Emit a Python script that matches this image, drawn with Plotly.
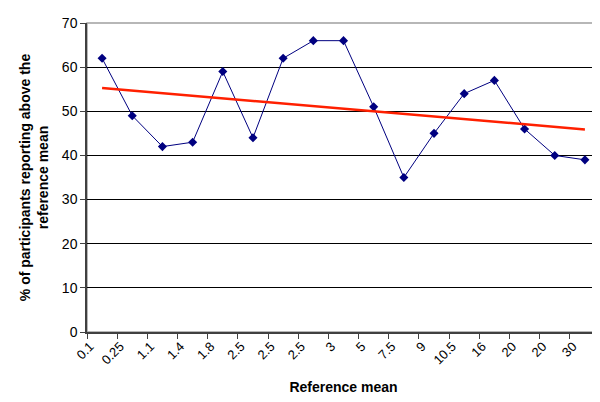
import numpy as np
import plotly.graph_objects as go

categories = ["0.1", "0.25", "1.1", "1.4", "1.8", "2.5", "2.5", "2.5", "3",
              "5", "7.5", "9", "10.5", "16", "20", "20", "30"]
percent_above = [62, 49, 42, 43, 59, 44, 62, 66, 66, 51, 35, 45, 54, 57, 46, 40, 39]

pos = np.arange(1, len(categories) + 1)
# linear trend line like the spreadsheet one
slope, icept = np.polyfit(pos, percent_above, 1)
trend = slope * pos + icept

fig = go.Figure()
fig.add_trace(go.Scatter(x=pos, y=percent_above, mode="lines+markers",
                         line=dict(color="#000080", width=1),
                         marker=dict(symbol="diamond", size=7, color="#000080"),
                         showlegend=False))
fig.add_trace(go.Scatter(x=[pos[0], pos[-1]], y=[trend[0], trend[-1]], mode="lines",
                         line=dict(color="#FF2000", width=2.5), showlegend=False))

fig.add_shape(type="rect", xref="paper", yref="paper", x0=0, y0=0, x1=1, y1=1,
              line=dict(color="#A0A0A0", width=1.5), layer="below")

fig.update_layout(
    width=600, height=402,
    margin=dict(l=79, r=8, t=15, b=78),
    plot_bgcolor="white", paper_bgcolor="white",
    font=dict(family="Liberation Sans, Arial", color="black"),
    xaxis=dict(range=[0.5, len(categories) + 0.5], tickvals=pos, ticktext=categories,
               tickangle=-45, ticks="", showgrid=False, zeroline=False,
               showline=True, linecolor="#404040", linewidth=1.5,
               tickfont=dict(size=13), ticklabelshift=-12,
               minor=dict(tick0=0.5, dtick=1, ticks="outside", ticklen=5,
                          tickcolor="#404040", showgrid=False),
               title=dict(text="<b>Reference mean</b>", font=dict(size=14), standoff=16)),
    yaxis=dict(range=[0, 70], dtick=10, ticks="outside", ticklen=5, tickcolor="#404040",
               showgrid=True, gridcolor="black", gridwidth=1, zeroline=False,
               showline=True, linecolor="#404040", linewidth=1.5,
               tickfont=dict(size=14),
               title=dict(text="<b>% of participants reporting above the<br>reference mean</b>",
                          font=dict(size=14), standoff=10)),
)

fig.write_html("out.html")
